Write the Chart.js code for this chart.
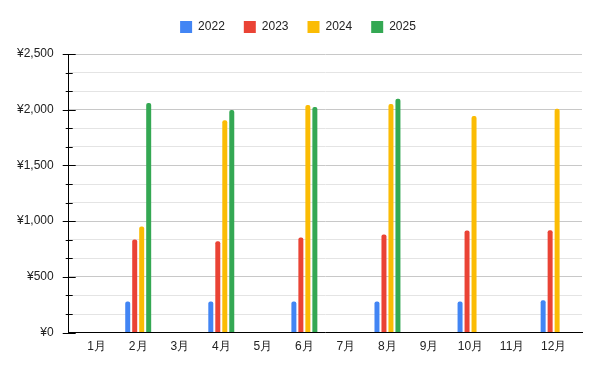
<!DOCTYPE html>
<html>
<head>
<meta charset="utf-8">
<script src="https://cdn.jsdelivr.net/npm/chart.js@4/dist/chart.umd.min.js"></script>
<style>
  html,body{margin:0;padding:0;background:#fff;}
  #wrap{width:600px;height:371px;}
</style>
</head>
<body>
<div id="wrap"><canvas id="chart"></canvas></div>
<script>
// months on the x axis
const months = ['1月','2月','3月','4月','5月','6月','7月','8月','9月','10月','11月','12月'];
// yearly series (yen), only even months have values
const sales2022 = [null, 280, null, 280, null, 280, null, 280, null, 280, null, 290];
const sales2023 = [null, 836, null, 819, null, 854, null, 881, null, 917, null, 918];
const sales2024 = [null, 952, null, 1905, null, 2042, null, 2051, null, 1944, null, 2009];
const sales2025 = [null, 2060, null, 1997, null, 2024, null, 2098, null, null, null, null];
const yearLabels = ['2022','2023','2024','2025'];
const yearColors = ['#4285F4','#EA4335','#FBBC04','#34A853'];

const FONT = 'Arial, "Liberation Sans", sans-serif';
const isMajor = v => Math.abs(v/500 - Math.round(v/500)) < 1e-6;

// x as linear so the category band can sit inset from the y axis
const toPoints = arr => arr.map((v,i)=>({x:i, y:v}));

const datasets = [sales2022, sales2023, sales2024, sales2025].map((arr,i)=>({
  label: yearLabels[i],
  data: toPoints(arr),
  backgroundColor: yearColors[i],
  borderRadius: {topLeft:2, topRight:2},
  borderSkipped: 'bottom',
  categoryPercentage: 0.673,
  barPercentage: 0.714
}));

// short tick marks: long for major, short for minor (Sheets style)
const tickMarks = {
  id: 'tickMarks',
  afterDraw(chart){
    const y = chart.scales.y, ctx = chart.ctx, left = chart.chartArea.left;
    ctx.save();
    ctx.strokeStyle = '#000';
    ctx.lineWidth = 1;
    y.ticks.forEach(t=>{
      const py = Math.round(y.getPixelForValue(t.value)) + 0.5;
      ctx.beginPath();
      if(isMajor(t.value)){ ctx.moveTo(left-6, py); ctx.lineTo(left+7, py); }
      else { ctx.moveTo(left-3, py); ctx.lineTo(left+4, py); }
      ctx.stroke();
    });
    ctx.restore();
  }
};

// a bit more room under the legend, and nudge it to the page centre
const legendGap = {
  id: 'legendGap',
  beforeInit(chart){
    const fit = chart.legend.fit;
    chart.legend.fit = function(){ fit.bind(chart.legend)(); this.height += 11; };
  },
  afterLayout(chart){
    chart.legend.left += 3;
    chart.legend.right += 3;
  }
};

new Chart(document.getElementById('chart'), {
  type: 'bar',
  data: { datasets },
  plugins: [tickMarks, legendGap],
  options: {
    responsive: true,
    maintainAspectRatio: false,
    animation: false,
    layout: { padding: {top: 2, left: 8, right: 18, bottom: 10} },
    plugins: {
      legend: {
        position: 'top',
        labels: { boxWidth: 12, boxHeight: 12, padding: 19, color: '#222', font: {family: FONT, size: 12} }
      },
      tooltip: { enabled: false }
    },
    scales: {
      x: {
        type: 'linear',
        offset: false,
        min: -0.673,
        max: 11.683,
        grid: { display: false, drawTicks: false, offset: false },
        border: { display: true, color: '#000', width: 1 },
        ticks: {
          stepSize: 1,
          includeBounds: false,
          autoSkip: false,
          maxRotation: 0,
          padding: 7,
          color: '#222',
          font: {family: FONT, size: 12},
          callback: v => Number.isInteger(v) && months[v] ? months[v] : null
        }
      },
      y: {
        min: 0,
        max: 2500,
        grid: {
          color: c => isMajor(c.tick.value) ? '#c8c8c8' : '#e4e4e4',
          tickLength: 6,
          tickColor: 'transparent'
        },
        border: { display: true, color: '#000', width: 1 },
        ticks: {
          stepSize: 500/3,
          padding: 9,
          color: '#222',
          font: {family: FONT, size: 12},
          callback: v => isMajor(v) ? '¥' + Math.round(v).toLocaleString('en-US') : ''
        }
      }
    }
  }
});
</script>
</body>
</html>
